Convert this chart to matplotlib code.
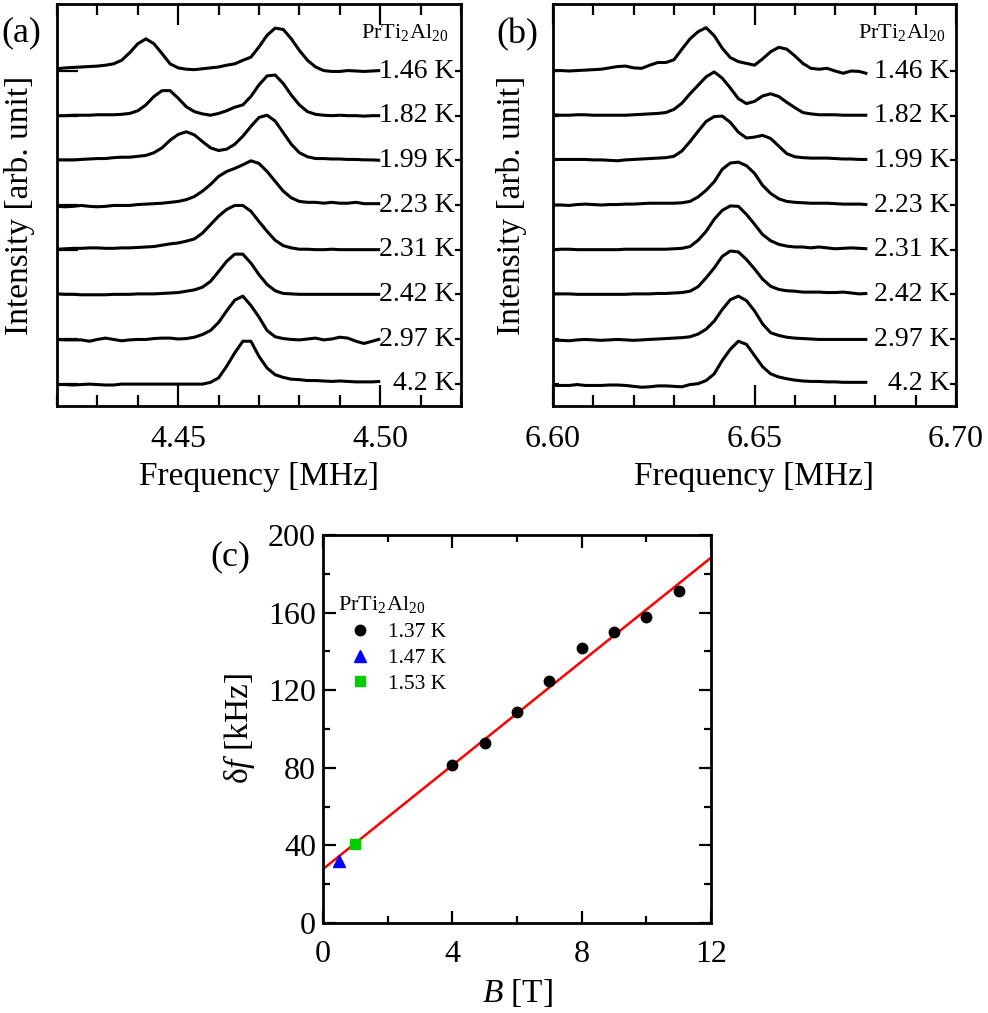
import numpy as np
import matplotlib
matplotlib.use("Agg")
import matplotlib.pyplot as plt
from matplotlib.ticker import FixedLocator, MultipleLocator

plt.rcParams['font.family'] = ['Liberation Serif', 'DejaVu Serif']
plt.rcParams['mathtext.fontset'] = 'custom'
plt.rcParams['mathtext.rm'] = 'Liberation Serif'
plt.rcParams['mathtext.it'] = 'Liberation Serif:italic'

# ---------------- data ----------------
temps = ["1.46 K", "1.82 K", "1.99 K", "2.23 K", "2.31 K", "2.42 K", "2.97 K", "4.2 K"]
offsets = [7, 6, 5, 4, 3, 2, 1, 0]

freq_a = np.round(4.42 + 0.002 * np.arange(41), 3)   # MHz
freq_b = np.round(6.60 + 0.002 * np.arange(40), 3)   # MHz

spec_a_146 = [0.05,0.07,0.08,0.09,0.10,0.11,0.13,0.16,0.24,0.41,0.61,0.72,0.61,0.39,0.16,0.07,0.04,0.03,0.05,0.07,0.09,0.13,0.16,0.24,0.31,0.54,0.80,0.96,0.93,0.72,0.46,0.24,0.09,0.01,-0.01,-0.01,0.01,0.00,-0.01,0.00,0.01]
spec_a_182 = [0,0,0.01,0.01,0.01,0.02,0.02,0.02,0.03,0.05,0.11,0.24,0.43,0.56,0.56,0.39,0.20,0.09,0.04,0.01,0.05,0.11,0.19,0.24,0.43,0.69,0.89,0.91,0.72,0.46,0.24,0.09,0.03,0.01,0,0.01,0,0,-0.01,0,0]
spec_a_199 = [0.01,0.01,0.01,0.02,0.03,0.04,0.04,0.06,0.07,0.07,0.09,0.11,0.17,0.28,0.45,0.58,0.64,0.57,0.42,0.28,0.22,0.25,0.36,0.54,0.76,0.96,1.01,0.88,0.62,0.36,0.17,0.08,0.04,0.04,0.03,0.03,0.02,0.02,0.01,0.01,0]
spec_a_223 = [-0.03,-0.04,-0.03,-0.01,-0.03,-0.04,-0.03,-0.01,-0.01,-0.01,0.01,0.02,0.03,0.04,0.06,0.08,0.12,0.19,0.31,0.46,0.64,0.75,0.82,0.90,0.99,0.93,0.75,0.53,0.31,0.16,0.08,0.06,0.06,0.04,0.06,0.04,0.04,0.06,0.03,0.03,0.03]
spec_a_231 = [0.01,0.02,0.03,0.03,0.04,0.04,0.03,0.03,0.04,0.04,0.05,0.06,0.07,0.10,0.13,0.15,0.19,0.24,0.37,0.56,0.75,0.90,0.99,0.99,0.86,0.63,0.41,0.21,0.09,0.04,0.01,0.01,0,0,0.01,0,0,0,0,0,0]
spec_a_242 = [0.01,0,0,-0.01,-0.01,-0.01,-0.01,0,0,0,0.01,0.01,0.01,0.02,0.03,0.04,0.07,0.10,0.16,0.29,0.51,0.74,0.90,0.90,0.70,0.44,0.22,0.08,0.02,0.01,0,0,0,0,0,0,0,0,0,0,0]
spec_a_297 = [-0.01,-0.02,-0.02,-0.02,-0.05,-0.01,0.02,-0.01,-0.04,-0.02,-0.01,-0.01,0.01,0.02,0.02,0,0.01,0.04,0.10,0.19,0.37,0.63,0.87,0.96,0.75,0.49,0.19,0.05,0.01,-0.01,-0.02,0,0.02,-0.02,0,0.04,0.02,-0.05,-0.10,-0.05,0]
spec_a_420 = [-0.02,-0.02,-0.03,-0.02,-0.01,-0.02,-0.03,-0.03,-0.01,-0.01,-0.01,-0.01,-0.01,-0.01,-0.01,-0.01,-0.01,-0.01,-0.01,0.03,0.13,0.39,0.69,0.95,0.95,0.61,0.35,0.20,0.14,0.10,0.09,0.07,0.07,0.06,0.05,0.06,0.05,0.04,0.04,0.04,0.05]

spec_b_146 = [0.01,0.01,0,0.01,0.02,0.03,0.04,0.07,0.10,0.11,0.07,0.06,0.13,0.19,0.19,0.25,0.49,0.72,0.88,0.97,0.79,0.51,0.30,0.21,0.17,0.13,0.27,0.43,0.53,0.49,0.34,0.17,0.06,0.04,0.06,0,-0.05,0,-0.01,-0.06]
spec_b_182 = [0.02,0.01,0.01,0.02,0.02,0.01,0.01,0.01,0.01,0.01,0.02,0.03,0.04,0.05,0.07,0.14,0.28,0.49,0.68,0.87,0.98,0.84,0.62,0.38,0.27,0.32,0.44,0.49,0.43,0.30,0.18,0.07,0.04,0.02,0.02,0.02,0.01,0.01,0.01,0.01]
spec_b_199 = [0.02,0.02,0.02,0.02,0.02,0.01,0.01,0,-0.01,0.01,0.02,0.03,0.04,0.05,0.06,0.09,0.21,0.42,0.65,0.87,0.98,0.99,0.85,0.63,0.50,0.52,0.56,0.49,0.32,0.15,0.08,0.06,0.05,0.05,0.05,0.04,0.03,0.03,0.02,0.02]
spec_b_223 = [0,0,-0.01,0.01,0.02,0.01,0,0.01,0.01,0.02,0.02,0.03,0.04,0.04,0.04,0.04,0.05,0.08,0.18,0.33,0.52,0.80,0.94,0.96,0.88,0.71,0.44,0.26,0.14,0.08,0.06,0.05,0.04,0.04,0.04,0.03,0.02,0.02,0.02,0.01]
spec_b_231 = [0,0.01,0.01,0,0,0,0,0,0,0.01,0.01,0.01,0.01,0.01,0.01,0.02,0.03,0.07,0.21,0.41,0.68,0.88,0.98,0.97,0.79,0.57,0.34,0.20,0.12,0.08,0.06,0.06,0.04,0.06,0.04,0.02,0.03,0.04,0.03,0.02]
spec_b_242 = [0.01,0.01,0.01,0,0,0,0,0,0,0,0.01,0.01,0.01,0.02,0.02,0.03,0.04,0.07,0.17,0.37,0.59,0.85,0.97,0.95,0.78,0.57,0.34,0.18,0.11,0.08,0.07,0.05,0.05,0.05,0.04,0.04,0.05,0.03,0.01,0.02]
spec_b_297 = [-0.03,-0.03,-0.04,-0.02,-0.01,-0.02,-0.03,-0.02,-0.01,-0.02,-0.03,-0.02,-0.01,0,0.01,0.02,0.03,0.05,0.11,0.22,0.40,0.66,0.88,0.96,0.86,0.63,0.34,0.14,0.08,0.04,0.02,0.01,0,-0.01,-0.01,-0.01,-0.01,-0.01,-0.01,-0.01]
spec_b_420 = [-0.04,-0.04,-0.04,-0.02,-0.04,-0.04,-0.04,-0.03,-0.03,-0.04,-0.06,-0.08,-0.07,-0.05,-0.05,-0.06,-0.07,-0.02,0,0.07,0.22,0.52,0.77,0.95,0.88,0.63,0.38,0.22,0.15,0.11,0.08,0.06,0.05,0.05,0.04,0.04,0.03,0.03,0.03,0.03]

spectra_a = [spec_a_146, spec_a_182, spec_a_199, spec_a_223, spec_a_231, spec_a_242, spec_a_297, spec_a_420]
spectra_b = [spec_b_146, spec_b_182, spec_b_199, spec_b_223, spec_b_231, spec_b_242, spec_b_297, spec_b_420]

B_137 = [4, 5, 6, 7, 8, 9, 10, 11]
df_137 = [81.5, 93.0, 109.0, 124.7, 141.6, 149.8, 157.9, 171.1]
B_147 = [0.5]
df_147 = [32.0]
B_153 = [1.0]
df_153 = [40.7]
fit_B = [0, 12]
fit_df = [27.8, 188.3]

# ---------------- figure ----------------
W, H = 988, 1013
fig = plt.figure(figsize=(W / 100, H / 100), dpi=100)

def fax(l, t, r, b):
    return fig.add_axes([l / W, 1 - b / H, (r - l) / W, (b - t) / H])

axa = fax(57, 4, 461, 406)
axb = fax(553, 4, 956, 406)
axc = fax(323, 535, 711, 923)

SPW = 2.0
TRW = 2.2

def spectrum_panel(ax, freq, spectra, xlim, major, left_len, label_x, ylabel_pad,
                   compound_xy, panel):
    for s, off, t in zip(spectra, offsets, temps):
        ax.plot(freq, np.array(s) + off, color='black', lw=TRW,
                solid_joinstyle='round', solid_capstyle='butt')
        ax.text(label_x, off, t, transform=ax.get_yaxis_transform(), ha='right',
                va='center', fontsize=20)
    ax.set_xlim(*xlim)
    ax.set_ylim(-0.5, 8.5)
    ax.xaxis.set_major_locator(FixedLocator(major))
    ax.xaxis.set_minor_locator(MultipleLocator(0.01))
    ax.yaxis.set_major_locator(FixedLocator(offsets))
    ax.yaxis.set_minor_locator(FixedLocator(offsets))
    ax.yaxis.remove_overlapping_locs = False
    ax.set_yticklabels([])
    ax.tick_params(axis='x', which='major', direction='in', top=True, bottom=True,
                   length=15, width=1.6, labelsize=23, pad=14)
    ax.tick_params(axis='x', which='minor', direction='in', top=True, bottom=True,
                   length=8, width=1.6)
    ax.tick_params(axis='y', which='major', direction='in', left=True, right=False,
                   length=left_len, width=1.6)
    ax.tick_params(axis='y', which='minor', direction='in', left=False, right=True,
                   length=4.5, width=1.6)
    ax.set_xticklabels([f"{v:.2f}" for v in major])
    for sp in ax.spines.values():
        sp.set_linewidth(SPW)
    ax.set_xlabel("Frequency [MHz]", fontsize=24, labelpad=5)
    ax.set_ylabel("Intensity [arb. unit]", fontsize=24, labelpad=ylabel_pad)
    ax.text(compound_xy[0], compound_xy[1], r"PrTi$_2$Al$_{20}$", transform=ax.transAxes,
            ha='right', va='center', fontsize=16)
    fig.text(panel[1] / W, 1 - panel[2] / H, panel[0], fontsize=26,
             ha='left', va='center')

spectrum_panel(axa, freq_a, spectra_a, (4.42, 4.52), [4.45, 4.50], 15, 0.983, 12,
               (0.968, 0.928), ("(a)", 1, 33))
spectrum_panel(axb, freq_b, spectra_b, (6.60, 6.70), [6.60, 6.65, 6.70], 4.5, 0.985, 15,
               (0.973, 0.928), ("(b)", 496, 35))

# ---------------- panel (c) ----------------
axc.plot(fit_B, fit_df, color='#ff0000', lw=1.8, zorder=2)
axc.plot(B_137, df_137, 'o', color='black', ms=7.5, zorder=3, label='1.37 K')
axc.plot(B_147, df_147, '^', color='#0000ff', ms=8.5, zorder=3, label='1.47 K')
axc.plot(B_153, df_153, 's', color='#00cc00', ms=7.5, zorder=3, label='1.53 K')
axc.set_xlim(0, 12)
axc.set_ylim(0, 200)
axc.xaxis.set_major_locator(MultipleLocator(4))
axc.xaxis.set_minor_locator(MultipleLocator(2))
axc.yaxis.set_major_locator(MultipleLocator(40))
axc.yaxis.set_minor_locator(MultipleLocator(20))
axc.tick_params(which='major', direction='in', top=True, bottom=True, left=True, right=True,
                length=9, width=1.6, labelsize=23)
axc.tick_params(which='minor', direction='in', top=True, bottom=True, left=True, right=True,
                length=5, width=1.6)
axc.tick_params(axis='x', which='major', pad=12)
axc.tick_params(axis='y', which='major', pad=5)
for sp in axc.spines.values():
    sp.set_linewidth(SPW)
axc.set_xlabel(r"$B$ [T]", fontsize=24, labelpad=6)
axc.set_ylabel(r"δ$f$ [kHz]", fontsize=24, labelpad=8)
axc.text(0.039, 0.820, r"PrTi$_2$Al$_{20}$", transform=axc.transAxes,
         ha='left', va='center', fontsize=16)
leg = axc.legend(loc='upper left', bbox_to_anchor=(0.068, 0.775),
                 frameon=False, fontsize=15.5, handlelength=1.0,
                 handletextpad=0.8, labelspacing=0.26, borderpad=0, borderaxespad=0,
                 markerscale=1.0)
fig.text(210 / W, 1 - 557 / H, "(c)", fontsize=26, ha='left', va='center')

fig.savefig("out.png", dpi=100)
